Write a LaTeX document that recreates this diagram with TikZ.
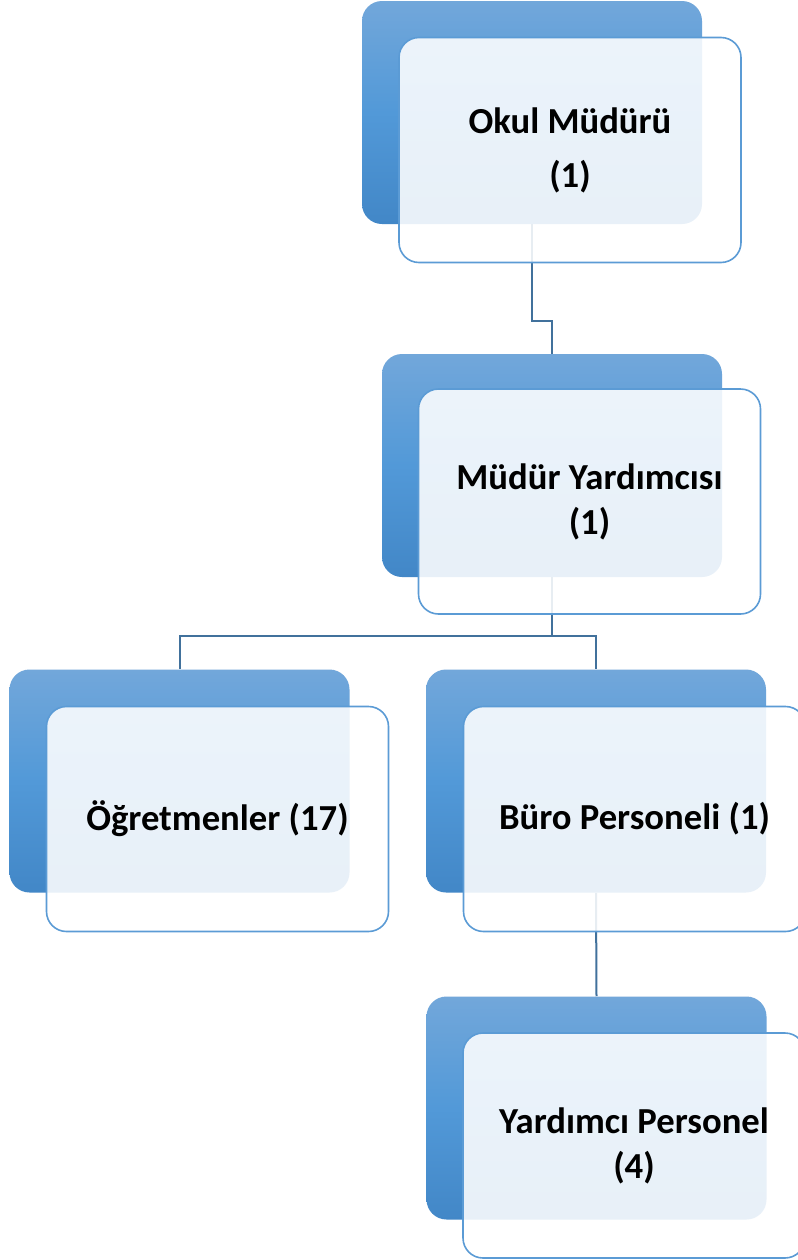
\documentclass[tikz,border=0pt]{standalone}
\usepackage{fontspec}
\setmainfont{Carlito}
\definecolor{topc}{RGB}{114,167,218}
\definecolor{midc}{RGB}{82,153,216}
\definecolor{botc}{RGB}{66,135,199}
\definecolor{edgec}{RGB}{91,155,213}
\definecolor{connc}{RGB}{65,113,156}
\begin{document}
\begin{tikzpicture}[x=0.75pt,y=-0.75pt,
  backbox/.style={rounded corners=15pt, minimum width=255pt, minimum height=167.25pt,
    inner sep=0pt, top color=topc, bottom color=botc, middle color=midc, draw=none},
  frontbox/.style={rounded corners=15pt, minimum width=256.5pt, minimum height=168.75pt,
    inner sep=0pt, draw=edgec, line width=1.2pt, fill=white, fill opacity=0.88,
    text opacity=1, text=black, align=center,
    font=\bfseries\fontsize{27.5}{33.75}\selectfont},
  conn/.style={draw=connc, line width=1.5pt}]
\useasboundingbox (0,0) rectangle (798,1260);
\clip (0,0) rectangle (798,1260);
\fill[white] (0,0) rectangle (798,1260);
% back boxes
\node[backbox] (b1) at (532,112.5) {};
\node[backbox] (b2) at (552,465.5) {};
\node[backbox] (b3) at (179.5,781) {};
\node[backbox] (b4) at (596,781) {};
\node[backbox] (b5) at (596.5,1108) {};
% connectors
\coordinate (j1) at (552,321);
\coordinate (j2) at (552,636);
\draw[conn] (b1.south) |- (j1) -- (b2.north);
\draw[conn] (b2.south) -- (j2);
\draw[conn] (b3.north) |- (j2) -| (b4.north);
\draw[conn] (b4.south) -- (b5.north);
% front boxes
\node[frontbox] (f1) at (570,150) {Okul Müdürü\\[6.75pt](1)};
\node[frontbox] (f2) at (589.5,501.5) {Müdür Yardımcısı\\(1)};
\node[frontbox] (f3) at (217.5,819) {Öğretmenler (17)};
\node[frontbox] (f4) at (634.5,819) {Büro Personeli (1)};
\node[frontbox] (f5) at (634,1145.5) {Yardımcı Personel\\(4)};
\end{tikzpicture}
\end{document}
